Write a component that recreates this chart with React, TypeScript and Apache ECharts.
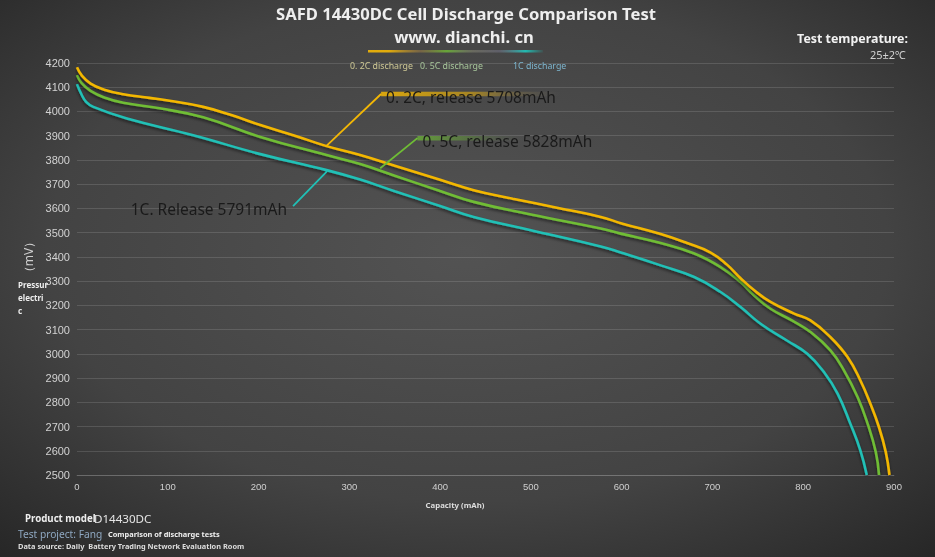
import React, { useEffect, useRef } from "react";
import * as echarts from "echarts";

const TITLE = "SAFD 14430DC Cell Discharge Comparison Test";
const SUBTITLE = "www. dianchi. cn";
const SERIES_NAMES = ["0. 2C discharge", "0. 5C discharge", "1C discharge"];
const SERIES_COLORS = ["#f3b705", "#6fbd35", "#20c0b6"];
const LEGEND_TEXT_COLORS = ["#cfc995", "#a8c79b", "#7db6cf"];
const Y_TICKS_MIN = 2500;
const Y_TICKS_MAX = 4200;
const Y_INTERVAL = 100;
const X_MIN = 0;
const X_MAX = 900;
const X_INTERVAL = 100;

const cap02 = [0, 5, 15, 30, 51, 80, 102, 139, 170, 202, 240, 275, 312, 350, 400, 437, 480, 530, 577, 600, 643, 672, 698, 716, 731, 746, 764, 790, 808, 830, 849, 863, 874, 883.5, 891, 895];
const mv02 = [4182, 4150, 4115, 4090, 4071, 4056, 4044, 4019, 3985, 3944, 3900, 3857, 3820, 3776, 3718, 3675, 3640, 3602, 3565, 3538, 3494, 3457, 3418, 3368, 3312, 3262, 3214, 3166, 3138, 3069, 2986, 2890, 2794, 2697, 2594, 2500];

const cap05 = [0, 5, 15, 30, 51, 91, 139, 202, 275, 312, 350, 400, 437, 500, 577, 599, 643, 680, 709, 731, 746, 764, 788, 808, 830, 845, 860, 871, 880, 883.5];
const mv05 = [4150, 4118, 4085, 4058, 4036, 4013, 3976, 3895, 3820, 3783, 3735, 3672, 3627, 3575, 3517, 3496, 3457, 3414, 3358, 3296, 3241, 3186, 3137, 3090, 3014, 2931, 2821, 2711, 2594, 2500];

const cap1 = [0, 5, 10, 18, 55, 128, 202, 275, 312, 350, 400, 437, 500, 577, 599, 643, 680, 709, 731, 753, 782, 804.5, 823, 838, 852, 863, 870];
const mv1 = [4113, 4070, 4040, 4019, 3971, 3902, 3824, 3758, 3719, 3671, 3610, 3565, 3510, 3443, 3418, 3365, 3317, 3255, 3193, 3124, 3055, 3000, 2924, 2835, 2711, 2601, 2500];

const NOTE_TEXTS = ["0. 2C, release 5708mAh", "0. 5C, release 5828mAh", "1C. Release 5791mAh"];
// leader anchors in data space: [point on curve], [elbow]
const NOTE_ANCHORS = [
  [[274.5, 3857], [335, 4072]],
  [[334, 3766], [375, 3890]],
  [[275.6, 3754], [238, 3609]],
];

const FONT = "'Noto Sans', sans-serif";

const zip = (xs: number[], ys: number[]) => xs.map((x, i) => [x, ys[i]]);

export default function App() {
  const ref = useRef<HTMLDivElement>(null);
  useEffect(() => {
    document.body.style.margin = "0";
    const chart = echarts.init(ref.current!, null, { renderer: "svg" });
    const datasets = [zip(cap02, mv02), zip(cap05, mv05), zip(cap1, mv1)];
    chart.setOption({
      animation: false,
      backgroundColor: new echarts.graphic.RadialGradient(0.5, 0.45, 0.75, [
        { offset: 0, color: "#535353" },
        { offset: 0.6, color: "#434343" },
        { offset: 1, color: "#262626" },
      ]),
      grid: { left: 77, right: 41, top: 63, bottom: 82 },
      xAxis: {
        type: "value",
        min: X_MIN,
        max: X_MAX,
        interval: X_INTERVAL,
        axisLine: { show: true, lineStyle: { color: "rgba(255,255,255,0.15)" } },
        axisTick: { show: false },
        splitLine: { show: false },
        axisLabel: { color: "#cfcfcf", fontSize: 9.5, fontFamily: "Liberation Sans", margin: 6, formatter: (v: number) => String(v) },
      },
      yAxis: {
        type: "value",
        min: Y_TICKS_MIN,
        max: Y_TICKS_MAX,
        interval: Y_INTERVAL,
        axisLine: { show: false },
        axisTick: { show: false },
        splitLine: { lineStyle: { color: "rgba(255,255,255,0.13)", width: 1 } },
        axisLabel: { color: "#d2d2d2", fontSize: 11, fontFamily: "Liberation Sans", margin: 7, formatter: (v: number) => String(v) },
      },
      series: datasets.map((d, i) => ({
        type: "line",
        name: SERIES_NAMES[i],
        data: d,
        smooth: 0.45,
        showSymbol: false,
        lineStyle: {
          color: SERIES_COLORS[i],
          width: 2.6,
          shadowColor: "rgba(0,0,0,0.55)",
          shadowBlur: 3,
          shadowOffsetY: 2,
        },
        z: 3 - i,
      })),
    });

    const px = (pt: number[]) => chart.convertToPixel({ gridIndex: 0 }, pt) as number[];
    const g: any[] = [];
    const t = (x: number, y: number, text: string, fill: string, font: string, align = "left", extra: any = {}) =>
      g.push({ type: "text", x, y, ...extra, style: { text, fill, font, align, verticalAlign: "middle" } });
    // titles
    t(466, 13, TITLE, "#eeeeee", `bold 16.6px ${FONT}`, "center");
    t(464, 36, SUBTITLE, "#eeeeee", `bold 16.6px ${FONT}`, "center");
    // legend gradient bar
    g.push({
      type: "rect",
      shape: { x: 368, y: 50, width: 175, height: 2.5 },
      style: {
        fill: new echarts.graphic.LinearGradient(0, 0, 1, 0, [
          { offset: 0, color: "rgba(243,183,5,0.9)" },
          { offset: 0.12, color: "rgba(243,183,5,0.9)" },
          { offset: 0.3, color: "rgba(150,120,70,0.6)" },
          { offset: 0.45, color: "rgba(111,189,53,0.8)" },
          { offset: 0.6, color: "rgba(140,140,120,0.5)" },
          { offset: 0.75, color: "rgba(120,120,140,0.5)" },
          { offset: 0.9, color: "rgba(32,192,182,0.95)" },
          { offset: 1, color: "rgba(32,192,182,0.1)" },
        ]),
      },
    });
    const legendX = [350, 420, 513];
    SERIES_NAMES.forEach((n, i) => t(legendX[i], 66, n, LEGEND_TEXT_COLORS[i], `8.8px ${FONT}`));
    // top right
    t(908, 38, "Test temperature:", "#f2f2f2", `bold 12.4px ${FONT}`, "right");
    t(906, 54, "25±2℃", "#d0d0d0", `11px ${FONT}`, "right");
    // axis names
    t(455, 505, "Capacity (mAh)", "#dddddd", `bold 7.8px ${FONT}`, "center");
    t(28, 257, "（mV）", "#cfcfcf", `12px ${FONT}`, "center", { rotation: Math.PI / 2 });
    t(18, 284, "Pressur", "#eeeeee", `bold 8px ${FONT}`);
    t(18, 297, "electri", "#eeeeee", `bold 8px ${FONT}`);
    t(18, 310, "c", "#eeeeee", `bold 8px ${FONT}`);
    // bottom left
    t(25, 518, "Product model", "#eeeeee", `bold 9.7px ${FONT}`);
    t(94, 518, "D14430DC", "#e6e6e6", `11.6px ${FONT}`);
    t(18, 534, "Test project: Fang", "#8fa8c2", `10.2px ${FONT}`);
    t(108, 534, "Comparison of discharge tests", "#f0f0f0", `bold 7.4px ${FONT}`);
    t(18, 546, "Data source: Daily  Battery Trading Network Evaluation Room", "#dddddd", `bold 7.4px ${FONT}`);

    // annotations
    NOTE_ANCHORS.forEach((a, i) => {
      const p0 = px(a[0]);
      const p1 = px(a[1]);
      const c = SERIES_COLORS[i];
      const leftSide = i === 2;
      if (!leftSide) {
        const len = i === 0 ? 180 : 110;
        g.push({
          type: "rect",
          shape: { x: p1[0], y: p1[1] - 2.2, width: len, height: 4.5 },
          style: {
            fill: new echarts.graphic.LinearGradient(0, 0, 1, 0, [
              { offset: 0, color: i === 0 ? "rgba(243,183,5,0.85)" : "rgba(111,189,53,0.7)" },
              { offset: 0.5, color: i === 0 ? "rgba(243,183,5,0.55)" : "rgba(111,189,53,0.3)" },
              { offset: 1, color: "rgba(120,120,120,0)" },
            ]),
          },
          z: 10,
        });
      }
      g.push({ type: "line", shape: { x1: p0[0], y1: p0[1], x2: p1[0], y2: p1[1] }, style: { stroke: c, lineWidth: 1.8 }, z: 11 });
      g.push({
        type: "text",
        x: leftSide ? p1[0] - 6 : p1[0] + 5,
        y: p1[1] + 2.5,
        style: { text: NOTE_TEXTS[i], fill: "#1a1a1a", font: `15.5px ${FONT}`, align: leftSide ? "right" : "left", verticalAlign: "middle" },
        z: 12,
      });
    });
    chart.setOption({ graphic: g });
    return () => chart.dispose();
  }, []);
  return <div ref={ref} style={{ position: "fixed", left: 0, top: 0, width: 935, height: 557 }} />;
}
